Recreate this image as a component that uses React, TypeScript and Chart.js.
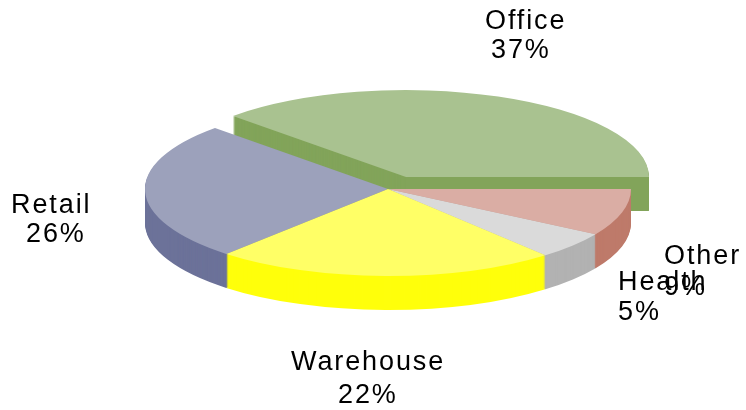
import React, { useEffect, useRef } from "react";
import { Chart, registerables } from "chart.js";

Chart.register(...registerables);

const categories = ["Office", "Other", "Health", "Warehouse", "Retail"];
const shares = [37.6, 8.7, 5.1, 22.8, 25.8];
const percentLabels = ["37%", "9%", "5%", "22%", "26%"];

const topColors = ["#A9C290", "#DAADA4", "#DADADA", "#FFFF66", "#9CA1BB"];
const wallColors = ["#82A45A", "#BE7A6A", "#B2B2B2", "#FFFF0B", "#6C7299"];

const PIE = { cx: 388, cy: 189, rx: 243, ry: 87, depth: 34 };
const EXPLODE = { index: 0, dx: 18, dy: -12 };
// back-to-front order of the slices that stay in place
const wallOrder = [4, 1, 2, 3];
const FONT = '27px "Liberation Sans", Arial, sans-serif';
const SPACING = "1.9px";
// [name x, name baseline, percent x, percent baseline]
const labelPlacement = [
  [485, 29, 491, 58],
  [664, 264, 664, 295],
  [618, 290, 618, 320],
  [291, 370, 338, 403],
  [11, 213, 26, 242],
];

const pie3d = {
  id: "pie3d",
  beforeDatasetsDraw(chart: any) {
    const ctx = chart.ctx;
    const arcs = chart.getDatasetMeta(0).data;
    const R = arcs[0].outerRadius;
    const paint = (arc: any, dy: number, ox: number, oy: number, color?: string) => {
      const saved = arc.options;
      if (color) arc.options = { ...saved, backgroundColor: color };
      ctx.save();
      ctx.translate(PIE.cx + ox, PIE.cy + oy + dy);
      ctx.scale(PIE.rx / R, PIE.ry / R);
      ctx.translate(-arc.x, -arc.y);
      arc.draw(ctx);
      ctx.restore();
      arc.options = saved;
    };
    const drawWalls = (i: number, ox: number, oy: number) => {
      for (let t = PIE.depth; t >= 1; t--) paint(arcs[i], t, ox, oy, wallColors[i]);
    };
    // exploded slice sits behind everything else
    drawWalls(EXPLODE.index, EXPLODE.dx, EXPLODE.dy);
    paint(arcs[EXPLODE.index], 0, EXPLODE.dx, EXPLODE.dy);
    wallOrder.forEach((i) => drawWalls(i, 0, 0));
    wallOrder.forEach((i) => paint(arcs[i], 0, 0, 0));
    return false;
  },
  afterDraw(chart: any) {
    const ctx = chart.ctx;
    ctx.save();
    ctx.font = FONT;
    ctx.fillStyle = "#000000";
    ctx.textAlign = "left";
    ctx.textBaseline = "alphabetic";
    ctx.letterSpacing = SPACING;
    categories.forEach((name, i) => {
      const [nx, ny, px, py] = labelPlacement[i];
      ctx.fillText(name, nx, ny);
      ctx.fillText(percentLabels[i], px, py);
    });
    ctx.restore();
  },
};

export default function App() {
  const ref = useRef<HTMLCanvasElement>(null);
  useEffect(() => {
    const chart = new Chart(ref.current!, {
      type: "pie",
      data: {
        labels: categories,
        datasets: [{ data: shares, backgroundColor: topColors, borderWidth: 0 }],
      },
      options: {
        responsive: false,
        animation: false,
        rotation: -45.4,
        layout: { padding: 0 },
        plugins: { legend: { display: false }, tooltip: { enabled: false } },
      },
      plugins: [pie3d],
    } as any);
    return () => chart.destroy();
  }, []);
  return (
    <div style={{ position: "absolute", left: 0, top: 0, width: 746, height: 410, background: "#fff", overflow: "hidden" }}>
      <canvas ref={ref} width={746} height={410} style={{ display: "block" }} />
    </div>
  );
}
